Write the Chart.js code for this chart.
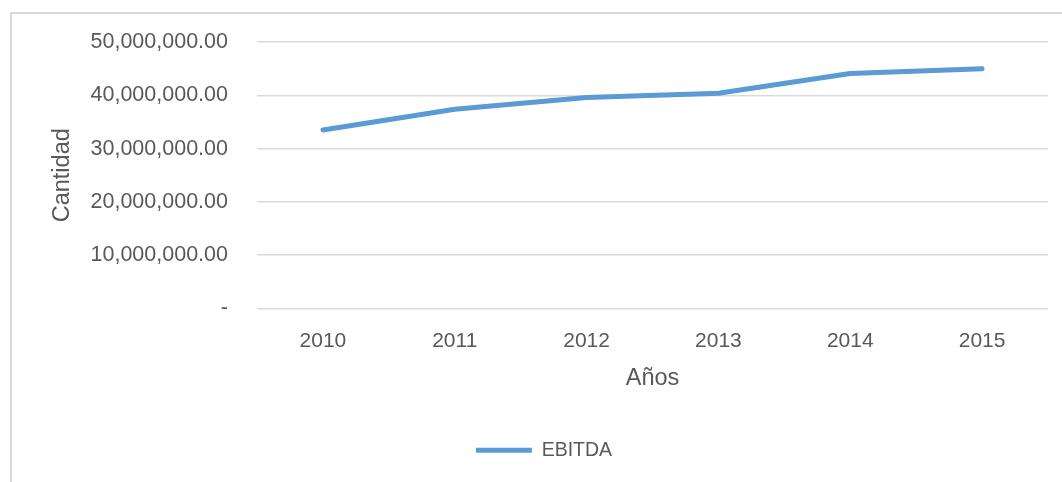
<!DOCTYPE html>
<html lang="es">
<head>
    <meta charset="UTF-8">
    <title>EBITDA por año</title>
    <style>
        html, body {
            margin: 0;
            padding: 0;
            background: #ffffff;
        }

        .frame {
            position: absolute;
            left: 10px;
            top: 12px;
            width: 1060px;
            height: 480px;
            border-left: 2px solid #d9d9d9;
            border-top: 2px solid #d9d9d9;
        }

        .chart-box {
            position: absolute;
            left: 0;
            top: 0;
            width: 1062px;
            height: 482px;
        }
    </style>
</head>
<body>
    <div class="frame"></div>
    <div class="chart-box">
        <canvas id="ebitdaChart" width="1062" height="482"></canvas>
    </div>

    <script src="https://cdn.jsdelivr.net/npm/chart.js"></script>

    <script>
        // Datos
        const years = ['2010', '2011', '2012', '2013', '2014', '2015'];
        const ebitda = [33500000, 37400000, 39600000, 40400000, 44100000, 45000000];
        const yTicks = [0, 10000000, 20000000, 30000000, 40000000, 50000000];

        const textColor = '#595959';
        const gridColor = '#d9d9d9';
        const lineColor = '#5b9bd5';
        const fontFamily = '"Liberation Sans", Arial, sans-serif';

        function formatAmount(v) {
            if (v === 0) return '-';
            return v.toLocaleString('en-US', { minimumFractionDigits: 2, maximumFractionDigits: 2 });
        }

        const ctx = document.getElementById('ebitdaChart').getContext('2d');
        new Chart(ctx, {
            type: 'line',
            data: {
                labels: years,
                datasets: [{
                    label: 'EBITDA',
                    data: ebitda,
                    borderColor: lineColor,
                    backgroundColor: lineColor,
                    borderWidth: 5,
                    borderCapStyle: 'round',
                    borderJoinStyle: 'round',
                    pointRadius: 0,
                    tension: 0,
                    fill: false
                }]
            },
            options: {
                responsive: false,
                animation: false,
                layout: {
                    padding: { top: 42, right: 14, left: 40, bottom: 12 }
                },
                plugins: {
                    tooltip: { enabled: false },
                    legend: {
                        position: 'bottom',
                        labels: {
                            color: textColor,
                            font: { family: fontFamily, size: 19.5 },
                            boxWidth: 56,
                            boxHeight: 5,
                            padding: 10,
                            generateLabels: function (chart) {
                                return chart.data.datasets.map(function (ds, i) {
                                    return {
                                        text: ds.label,
                                        fillStyle: ds.borderColor,
                                        strokeStyle: ds.borderColor,
                                        lineWidth: 0,
                                        fontColor: textColor,
                                        datasetIndex: i
                                    };
                                });
                            }
                        }
                    }
                },
                scales: {
                    x: {
                        offset: true,
                        grid: { display: false, drawTicks: false },
                        border: { display: false },
                        ticks: {
                            color: textColor,
                            font: { family: fontFamily, size: 21 },
                            padding: 20,
                            maxRotation: 0
                        },
                        title: {
                            display: true,
                            text: 'Años',
                            color: textColor,
                            font: { family: fontFamily, size: 23.5 },
                            padding: { top: 0, bottom: 38 }
                        },
                        afterFit: function (scale) {
                            scale.height = 122;
                        }
                    },
                    y: {
                        min: 0,
                        max: 50000000,
                        afterBuildTicks: function (scale) {
                            scale.ticks = yTicks.map(function (v) { return { value: v }; });
                        },
                        grid: {
                            color: gridColor,
                            lineWidth: 1.5,
                            drawTicks: false
                        },
                        border: { display: false },
                        ticks: {
                            color: textColor,
                            font: { family: fontFamily, size: 21.5 },
                            padding: 29,
                            callback: function (value) { return formatAmount(value); }
                        },
                        title: {
                            display: true,
                            text: 'Cantidad',
                            color: textColor,
                            font: { family: fontFamily, size: 23.5 },
                            padding: { top: 8, bottom: 0 }
                        },
                        afterFit: function (scale) {
                            scale.width = 217;
                        }
                    }
                }
            }
        });
    </script>
</body>
</html>
